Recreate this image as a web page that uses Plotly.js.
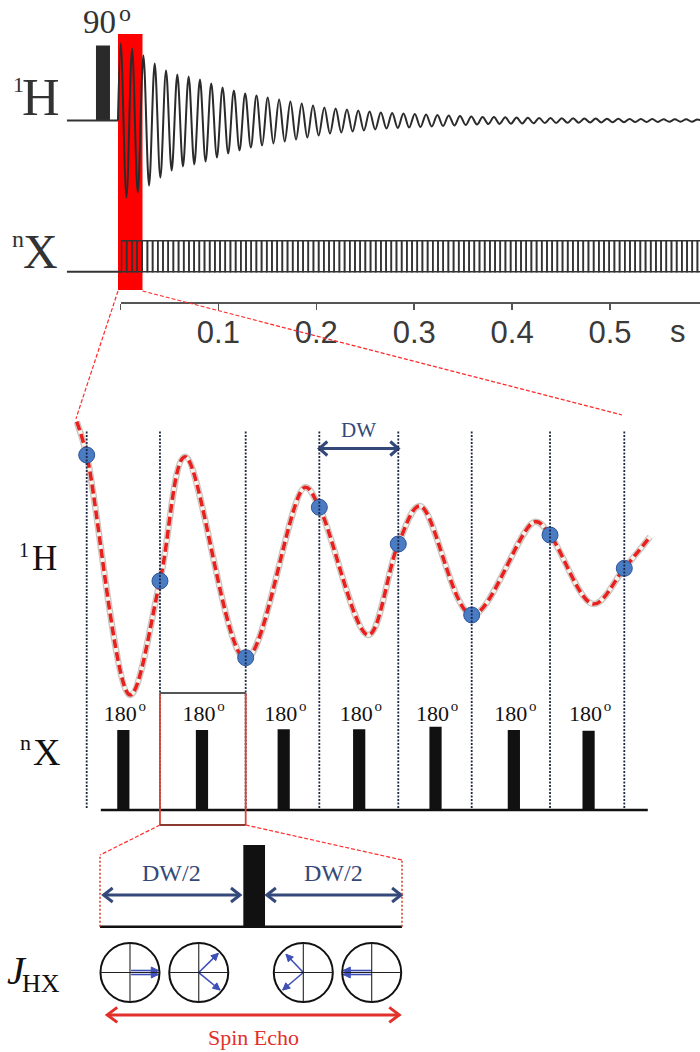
<!DOCTYPE html>
<html><head><meta charset="utf-8">
<script src="https://cdn.plot.ly/plotly-3.0.1.min.js"></script>
<style>html,body{margin:0;padding:0;background:#fff}#chart{width:700px;height:1052px}</style>
</head><body><div id="chart"></div>
<script>
// ================= DATA =================
// Panel A: free induction decay, amplitude of each cycle (1 unit = pulse-height scale)
const fidEnv = [0.77,0.72,0.65,0.57,0.50,0.46,0.44,0.41,0.37,0.33,0.30,0.27,0.25,0.23,0.21,0.19,
  0.17,0.15,0.13,0.12,0.11,0.10,0.09,0.08,0.075,0.07,0.065,0.06,0.055,0.05,0.045,0.04,0.036,0.034,
  0.032,0.030,0.028,0.026,0.025,0.023,0.022,0.020,0.019,0.018,0.017,0.016,0.015,0.014,0.013,0.012,0.012,0.011];
const fidPeriod = 0.01155;      // s
const fidFirstPeak = 0.0003;    // s
const fidStartT = -0.0026;      // s
const hBaseStartT = -0.0547;    // s
const hPulseT = [-0.0179];      // 90 degree pulse centre (s)
const hPulseW = [0.0143];       // pulse width (s)
const hPulseH = [0.75];
const xTrainStart = 0.001, xTrainStep = 0.0053, xTrainCount = 112; // nX decoupling train
const highlightT = [-0.00255, 0.02247];
const tickVals = [0.1, 0.2, 0.3, 0.4, 0.5];
const tickText = ['0.1', '0.2', '0.3', '0.4', '0.5'];
const originTick = [0];
const timeUnit = 's';

// Panel B: zoom of first dwell periods (x in dwell units)
const sampleT   = [0, 0.954, 2.070, 3.029, 4.057, 5.013, 6.033, 7.0];
const sampleAmp = [1.05, -0.21, -0.977, 0.527, 0.16, -0.55, 0.25, -0.083];
const curveT   = [-0.130, 0, 0.564, 0.954, 1.280, 2.070, 2.842, 3.029, 3.667, 4.057, 4.340, 5.017, 5.837, 6.033, 6.596, 7.0, 7.337];
const curveAmp = [1.383, 1.05, -1.35, -0.21, 1.033, -0.99, 0.727, 0.527, -0.75, 0.16, 0.54, -0.55, 0.383, 0.25, -0.44, -0.083, 0.233];
const pulseT = [0.477, 1.501, 2.565, 3.548, 4.542, 5.562, 6.535];
const pulseH = [1.0, 1.0, 1.01, 1.01, 1.04, 1.0, 0.99];
const pulseW = 0.159;
const pulseLabel = '180';
const degreeMark = 'o';
const xBaseB = [0.184, 7.306];

// Panel C: spin echo (x in dwell units)
const echoPulseX = [0.5105], echoPulseH = [0.2705], echoPulseW = 0.0719;
const circleX = [0.0993, 0.327, 0.6732, 0.8997];
const circleY = [-0.1517, -0.1517, -0.1517, -0.1517];
const circleR = 0.0977;
const vecTailX = [0.103, 0.103, 0.327, 0.327, 0.6732, 0.6732, 0.8997, 0.8997];
const vecTailY = [-0.1451, -0.1583, -0.1517, -0.1517, -0.1517, -0.1517, -0.1451, -0.1583];
const vecTipX  = [0.193, 0.193, 0.3917, 0.3974, 0.6159, 0.605, 0.8056, 0.8056];
const vecTipY  = [-0.1451, -0.1583, -0.0881, -0.2096, -0.0914, -0.2096, -0.1451, -0.1583];

// ================= LAYOUT HELPERS =================
const W = 700, H = 1052;
const px = p => p / W;
const py = p => 1 - p / H;
const AX = {
  x:  {range: [-0.12308, 0.59193], domain: [0, 1]},
  x2: {range: [0, 0.59193], domain: [px(120.5), 1]},
  y:  {range: [-0.795, 0.905], domain: [py(200), py(30)]},
  y2: {range: [-0.9677, 1.829], domain: [py(301.7), py(215)]},
  x3: {range: [-1.1289, 7.9857], domain: [0, 1]},
  y3: {range: [-1.46, 1.6], domain: [py(706), py(400)]},
  y4: {range: [-0.275, 1.5], domain: [py(832), py(690)]},
  x4: {range: [-0.33113, 1.98675], domain: [0, 1]},
  y5: {range: [-0.4149, 0.30364], domain: [0, py(835)]}
};
function toPaper(v, ax) { return ax.domain[0] + (v - ax.range[0]) / (ax.range[1] - ax.range[0]) * (ax.domain[1] - ax.domain[0]); }
function pxPerUnit(k, isX) { const a = AX[k]; return (a.domain[1] - a.domain[0]) * (isX ? W : H) / (a.range[1] - a.range[0]); }

const SERIF = 'Liberation Serif, Times New Roman, serif';
const SANS = 'Liberation Sans, Arial, sans-serif';
const NAVY = '#34497a';
const RED = '#e2302a';
const BLUE = '#3f4fb8';

// arrows drawn as traces: shaft + head(s)
function arrowTraces(xa, ya, segs, o) {
  const sx = pxPerUnit(xa, true), sy = pxPerUnit(ya, false);
  const shX = [], shY = [], hdX = [], hdY = [];
  function head(x0, y0, x1, y1) {
    const dx = (x1 - x0) * sx, dy = (y1 - y0) * sy, L = Math.hypot(dx, dy), ux = dx / L, uy = dy / L;
    const bx = x1 * sx - o.len * ux, by = y1 * sy - o.len * uy;
    const p1 = [(bx - o.half * uy) / sx, (by + o.half * ux) / sy];
    const p2 = [(bx + o.half * uy) / sx, (by - o.half * ux) / sy];
    hdX.push(p1[0], x1, p2[0]); hdY.push(p1[1], y1, p2[1]);
    if (o.filled) { hdX.push(p1[0]); hdY.push(p1[1]); }
    hdX.push(null); hdY.push(null);
  }
  segs.forEach(s => {
    shX.push(s[0], s[2], null); shY.push(s[1], s[3], null);
    head(s[0], s[1], s[2], s[3]);
    if (o.both) head(s[2], s[3], s[0], s[1]);
  });
  const base = {xaxis: xa, yaxis: ya, mode: 'lines', hoverinfo: 'skip', cliponaxis: false};
  return [
    Object.assign({}, base, {x: shX, y: shY, line: {color: o.color, width: o.width}}),
    Object.assign({}, base, {x: hdX, y: hdY, line: {color: o.color, width: o.filled ? 1 : o.width},
      fill: o.filled ? 'toself' : 'none', fillcolor: o.color})
  ];
}

// ================= TRACES =================
const traces = [];
// Panel A - 1H channel
traces.push({x: [hBaseStartT, fidStartT], y: [0, 0], xaxis: 'x', yaxis: 'y', mode: 'lines',
  line: {color: '#333', width: 2}, hoverinfo: 'skip'});
traces.push({type: 'bar', x: hPulseT, y: hPulseH, width: hPulseW, xaxis: 'x', yaxis: 'y',
  marker: {color: '#2a2a2a', line: {width: 0}}, hoverinfo: 'skip'});
const fidX = [fidStartT], fidY = [0];
fidEnv.forEach((a, k) => {
  fidX.push(fidFirstPeak + k * fidPeriod); fidY.push(a);
  fidX.push(fidFirstPeak + (k + 0.5) * fidPeriod); fidY.push(-a);
});
traces.push({x: fidX, y: fidY, xaxis: 'x', yaxis: 'y', mode: 'lines',
  line: {color: '#2b2b2b', width: 2, shape: 'spline', smoothing: 1}, hoverinfo: 'skip'});
// Panel A - nX channel
traces.push({x: [hBaseStartT, xTrainStart], y: [0, 0], xaxis: 'x', yaxis: 'y2', mode: 'lines',
  line: {color: '#333', width: 2}, hoverinfo: 'skip'});
const trainX = [], trainY = [];
for (let i = 0; i < xTrainCount; i++) { trainX.push(xTrainStart + (i + 0.5) * xTrainStep); trainY.push(1); }
traces.push({type: 'bar', x: trainX, y: trainY, width: xTrainStep, xaxis: 'x2', yaxis: 'y2',
  marker: {color: 'rgba(0,0,0,0)', line: {color: '#333', width: 1.6}}, hoverinfo: 'skip'});

// Panel B - 1H signal
traces.push({x: curveT, y: curveAmp, xaxis: 'x3', yaxis: 'y3', mode: 'lines',
  line: {color: 'rgba(120,110,100,0.4)', width: 6.5, shape: 'spline', smoothing: 1}, hoverinfo: 'skip'});
traces.push({x: curveT, y: curveAmp, xaxis: 'x3', yaxis: 'y3', mode: 'lines',
  line: {color: '#f7f2ea', width: 4, shape: 'spline', smoothing: 1}, hoverinfo: 'skip'});
traces.push({x: curveT, y: curveAmp, xaxis: 'x3', yaxis: 'y3', mode: 'lines',
  line: {color: '#e8211f', width: 3.6, dash: '9px,4px', shape: 'spline', smoothing: 1}, hoverinfo: 'skip'});
traces.push({x: sampleT, y: sampleAmp, xaxis: 'x3', yaxis: 'y3', mode: 'markers',
  marker: {size: 16, color: '#4a7cc4', line: {color: '#2f5597', width: 1}}, cliponaxis: false, hoverinfo: 'skip'});
// Panel B - nX pulses
traces.push({x: xBaseB, y: [0, 0], xaxis: 'x3', yaxis: 'y4', mode: 'lines',
  line: {color: '#111', width: 2.5}, hoverinfo: 'skip'});
traces.push({type: 'bar', x: pulseT, y: pulseH, width: pulseW, xaxis: 'x3', yaxis: 'y4',
  marker: {color: '#111', line: {width: 0}}, hoverinfo: 'skip'});
const sx3 = pxPerUnit('x3', true);
traces.push({x: pulseT.map(t => t - 3 / sx3), y: pulseT.map(() => 1.1875), text: pulseT.map(() => pulseLabel),
  xaxis: 'x3', yaxis: 'y4', mode: 'text', textposition: 'middle center',
  textfont: {family: SERIF, size: 22, color: '#111'}, cliponaxis: false, hoverinfo: 'skip'});
traces.push({x: pulseT.map(t => t + 19 / sx3), y: pulseT.map(() => 1.29), text: pulseT.map(() => degreeMark),
  xaxis: 'x3', yaxis: 'y4', mode: 'text', textposition: 'middle center',
  textfont: {family: SERIF, size: 15, color: '#111'}, cliponaxis: false, hoverinfo: 'skip'});
// DW arrow
arrowTraces('x3', 'y3', [[sampleT[3], 1.115, sampleT[4], 1.115]],
  {color: NAVY, width: 3, len: 8, half: 7, both: true}).forEach(t => traces.push(t));

// Panel C - spin echo
traces.push({x: [0, 1], y: [0, 0], xaxis: 'x4', yaxis: 'y5', mode: 'lines',
  line: {color: '#111', width: 2.5}, hoverinfo: 'skip'});
traces.push({type: 'bar', x: echoPulseX, y: echoPulseH, width: echoPulseW, xaxis: 'x4', yaxis: 'y5',
  marker: {color: '#111', line: {width: 0}}, hoverinfo: 'skip'});
const pL = echoPulseX[0] - echoPulseW / 2, pR = echoPulseX[0] + echoPulseW / 2;
arrowTraces('x4', 'y5', [[0.012, 0.105, pL - 0.011, 0.105], [pR + 0.006, 0.105, 0.997, 0.105]],
  {color: NAVY, width: 3, len: 9, half: 7, both: true}).forEach(t => traces.push(t));
arrowTraces('x4', 'y5', [[0.024, -0.292, 0.991, -0.292]],
  {color: RED, width: 3, len: 10, half: 7.5, both: true}).forEach(t => traces.push(t));
const vecSegs = vecTipX.map((tx, i) => [vecTailX[i], vecTailY[i], tx, vecTipY[i]]);
arrowTraces('x4', 'y5', vecSegs, {color: BLUE, width: 1.6, len: 7, half: 3.5, filled: true}).forEach(t => traces.push(t));

// ================= SHAPES =================
const shapes = [];
shapes.push({type: 'rect', xref: 'x', yref: 'paper', x0: highlightT[0], x1: highlightT[1],
  y0: py(290), y1: py(34), fillcolor: '#ff0000', line: {width: 0}, layer: 'below'});
const connA = {color: '#ff2a2a', width: 1.2, dash: '4px,2px'};
shapes.push({type: 'line', xref: 'paper', yref: 'paper',
  x0: toPaper(highlightT[0], AX.x), y0: py(291), x1: toPaper(curveT[0] - 0.01, AX.x3), y1: toPaper(curveAmp[0] + 0.03, AX.y3), line: connA});
shapes.push({type: 'line', xref: 'paper', yref: 'paper',
  x0: toPaper(highlightT[1], AX.x), y0: py(291), x1: toPaper(sampleT[7] - 0.03, AX.x3), y1: toPaper(1.45, AX.y3), line: connA});
sampleT.forEach(t => shapes.push({type: 'line', xref: 'x3', yref: 'paper', x0: t, x1: t,
  y0: py(808), y1: py(430), line: {color: '#1f2844', width: 1.8, dash: '2px,1.5px'}}));
shapes.push({type: 'line', xref: 'x3', yref: 'y4', x0: sampleT[1], x1: sampleT[1], y0: -0.1875, y1: 1.4625, line: {color: '#d9453a', width: 1.8}});
shapes.push({type: 'line', xref: 'x3', yref: 'y4', x0: sampleT[2], x1: sampleT[2], y0: -0.1875, y1: 1.4625, line: {color: '#d9453a', width: 1.8}});
shapes.push({type: 'line', xref: 'x3', yref: 'y4', x0: sampleT[1], x1: sampleT[2], y0: 1.4625, y1: 1.4625, line: {color: '#555', width: 1.8}});
shapes.push({type: 'line', xref: 'x3', yref: 'y4', x0: sampleT[1], x1: sampleT[2], y0: -0.1875, y1: -0.1875, line: {color: '#8a3a30', width: 1.8}});
const topL = 0.2374, topR = 0.2209;
shapes.push({type: 'line', xref: 'paper', yref: 'paper',
  x0: toPaper(sampleT[1], AX.x3), y0: toPaper(-0.1875, AX.y4), x1: toPaper(0, AX.x4), y1: toPaper(topL, AX.y5), line: connA});
shapes.push({type: 'line', xref: 'paper', yref: 'paper',
  x0: toPaper(sampleT[2], AX.x3), y0: toPaper(-0.1875, AX.y4), x1: toPaper(1, AX.x4), y1: toPaper(topR, AX.y5), line: connA});
shapes.push({type: 'line', xref: 'x4', yref: 'y5', x0: 0, x1: 0, y0: 0, y1: topL, line: {color: '#d0402a', width: 1.5, dash: '2px,2px'}});
shapes.push({type: 'line', xref: 'x4', yref: 'y5', x0: 1, x1: 1, y0: 0, y1: topR, line: {color: '#d0402a', width: 1.5, dash: '2px,2px'}});
circleX.forEach((cx, i) => {
  const cy = circleY[i];
  shapes.push({type: 'circle', xref: 'x4', yref: 'y5', x0: cx - circleR, x1: cx + circleR, y0: cy - circleR, y1: cy + circleR,
    line: {color: '#111', width: 2}});
  shapes.push({type: 'line', xref: 'x4', yref: 'y5', x0: cx - circleR, x1: cx + circleR, y0: cy, y1: cy, line: {color: '#222', width: 1.1}});
  shapes.push({type: 'line', xref: 'x4', yref: 'y5', x0: cx, x1: cx, y0: cy - circleR, y1: cy + circleR, line: {color: '#222', width: 1.1}});
});

// ================= ANNOTATIONS =================
const ann = [];
function lab(text, x, y, size, color, family) {
  ann.push({text: text, x: px(x), y: py(y), xref: 'paper', yref: 'paper', showarrow: false,
    xanchor: 'center', yanchor: 'middle', font: {family: family || SERIF, size: size, color: color || '#222'}});
}
lab('90', 99.5, 22, 33, '#333'); lab(degreeMark, 125, 13, 24, '#333');
lab('H', 41, 97, 52, '#333'); lab('1', 18, 84, 22, '#333');
lab('X', 40, 251, 48, '#333'); lab('n', 18, 239, 24, '#333');
lab('H', 44, 558, 35, '#111'); lab('1', 23.5, 550, 20, '#111');
lab('X', 46, 752, 38, '#111'); lab('n', 25, 742, 22, '#111');
lab('<i>J</i>', 17, 970, 40, '#111'); lab('HX', 40.5, 983, 26, '#111');
ann.push({text: timeUnit, x: 0.5698, y: py(331), xref: 'x2', yref: 'paper', showarrow: false,
  xanchor: 'center', yanchor: 'middle', font: {family: SANS, size: 31, color: '#3a3a3a'}});
ann.push({text: 'DW', x: (sampleT[3] + sampleT[4]) / 2, y: 1.30, xref: 'x3', yref: 'y3', showarrow: false,
  font: {family: SERIF, size: 21, color: NAVY}});
ann.push({text: 'DW/2', x: pL / 2, y: 0.177, xref: 'x4', yref: 'y5', showarrow: false, font: {family: SERIF, size: 24, color: NAVY}});
ann.push({text: 'DW/2', x: (pR + 1) / 2, y: 0.177, xref: 'x4', yref: 'y5', showarrow: false, font: {family: SERIF, size: 24, color: NAVY}});
ann.push({text: 'Spin Echo', x: 0.508, y: -0.3685, xref: 'x4', yref: 'y5', showarrow: false, font: {family: SERIF, size: 22, color: RED}});

// ================= LAYOUT =================
const hidden = k => Object.assign({visible: false, fixedrange: true, showgrid: false, zeroline: false}, AX[k]);
const layout = {
  width: W, height: H, margin: {l: 0, r: 0, t: 0, b: 0},
  paper_bgcolor: '#fff', plot_bgcolor: 'rgba(0,0,0,0)', showlegend: false, barmode: 'overlay',
  xaxis: Object.assign(hidden('x'), {anchor: 'y'}),
  xaxis2: Object.assign({}, AX.x2, {anchor: 'y2', visible: true, showgrid: false, zeroline: false, fixedrange: true,
    showline: true, linecolor: '#555', linewidth: 2, ticks: 'outside', ticklen: 6, tickwidth: 1.5, tickcolor: '#555',
    tickmode: 'array', tickvals: tickVals, ticktext: tickText, ticklabelstandoff: -4,
    minor: {tickmode: 'array', tickvals: originTick, ticks: 'outside', ticklen: 6, tickwidth: 1.5, tickcolor: '#555'},
    tickfont: {family: SANS, size: 31, color: '#3a3a3a'}}),
  yaxis: Object.assign(hidden('y'), {anchor: 'x'}),
  yaxis2: Object.assign(hidden('y2'), {anchor: 'x'}),
  xaxis3: Object.assign(hidden('x3'), {anchor: 'y3'}),
  yaxis3: Object.assign(hidden('y3'), {anchor: 'x3'}),
  yaxis4: Object.assign(hidden('y4'), {anchor: 'x3'}),
  xaxis4: Object.assign(hidden('x4'), {anchor: 'y5'}),
  yaxis5: Object.assign(hidden('y5'), {anchor: 'x4'}),
  shapes: shapes, annotations: ann
};
Plotly.newPlot('chart', traces, layout, {staticPlot: true, displayModeBar: false});
</script></body></html>
